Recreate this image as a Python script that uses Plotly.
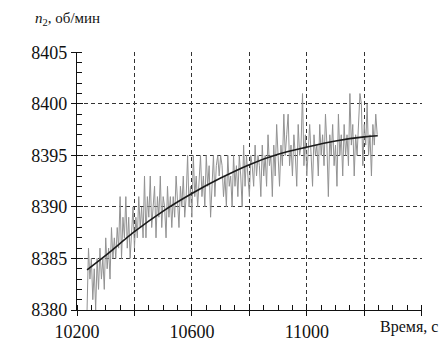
import plotly.graph_objects as go

# ---- data ----
t_start = 10235
t_step = 5
rpm_measured = [
    8380, 8386, 8383, 8385, 8381, 8384, 8380, 8385, 8382, 8386, 8383, 8385, 8382, 8387, 8384, 8386, 8383, 8388, 8385, 8387,
    8385, 8388, 8386, 8391, 8385, 8389, 8387, 8391, 8386, 8389, 8385, 8388, 8390, 8386, 8389, 8387, 8391, 8388, 8390, 8387,
    8393, 8387, 8391, 8389, 8393, 8388, 8390, 8392, 8387, 8391, 8389, 8393, 8388, 8391, 8390, 8387, 8392, 8389, 8391, 8388,
    8391, 8389, 8393, 8390, 8388, 8392, 8390, 8393, 8389, 8391, 8395, 8390, 8392, 8389, 8395, 8391, 8393, 8390, 8392, 8395,
    8391, 8393, 8390, 8395, 8392, 8394, 8389, 8393, 8395, 8391, 8394, 8395, 8393, 8395, 8394, 8391, 8393, 8390, 8395, 8392,
    8393, 8390, 8395, 8392, 8394, 8391, 8395, 8393, 8390, 8396, 8392, 8395, 8393, 8391, 8395, 8394, 8392, 8396, 8393, 8395,
    8394, 8391, 8396, 8393, 8395, 8392, 8397, 8394, 8395, 8391, 8396, 8393, 8398, 8395, 8392, 8396, 8394, 8399, 8395, 8397,
    8399, 8394, 8396, 8393, 8397, 8395, 8392, 8398, 8395, 8396, 8401, 8394, 8397, 8393, 8396, 8398, 8395, 8392, 8397, 8395,
    8396, 8393, 8398, 8395, 8397, 8394, 8399, 8396, 8391, 8397, 8395, 8398, 8394, 8396, 8392, 8399, 8395, 8397, 8393, 8398,
    8395, 8397, 8394, 8401, 8396, 8398, 8393, 8397, 8395, 8399, 8401, 8400, 8394, 8398, 8396, 8400, 8395, 8397, 8393, 8398,
    8396, 8399, 8397,
]
time_measured = [t_start + t_step * i for i in range(len(rpm_measured))]

time_fit = [10235, 10300, 10400, 10500, 10600, 10700, 10800, 10900, 11000, 11100, 11200, 11247]
rpm_fit = [8383.9, 8385.3, 8387.6, 8389.6, 8391.3, 8392.8, 8394.1, 8395.1, 8395.8, 8396.4, 8396.8, 8396.9]

x_ticks = [10200, 10400, 10600, 10800, 11000, 11200, 11400]
x_tick_text = ["10200", "", "10600", "", "11000", "", ""]
y_ticks = [8380, 8385, 8390, 8395, 8400, 8405]

x_range = [10200, 11401]
y_range = [8380, 8405.03]

FONT = "Liberation Serif"
INK = "#111111"

fig = go.Figure()
fig.add_trace(go.Scatter(
    x=time_measured, y=rpm_measured, mode="lines",
    line=dict(color="#929292", width=1), xaxis="x", yaxis="y",
    showlegend=False, hoverinfo="skip",
))
fig.add_trace(go.Scatter(
    x=time_fit, y=rpm_fit, mode="lines",
    line=dict(color="#1a1a1a", width=1.6, shape="spline"), xaxis="x2", yaxis="y2",
    showlegend=False, hoverinfo="skip",
))

grid = dict(showgrid=True, gridcolor="#333333", gridwidth=1, griddash="4px,3px")

fig.update_layout(
    width=448, height=354,
    margin=dict(l=77, r=26, t=52, b=32),
    paper_bgcolor="white", plot_bgcolor="white",
    font=dict(family=FONT, size=18, color=INK),
    xaxis=dict(
        range=x_range, tickvals=x_ticks, ticktext=x_tick_text,
        ticks="outside", ticklen=5, tickwidth=1, tickcolor=INK,
        showline=True, linecolor=INK, linewidth=1.2,
        zeroline=False, tickfont=dict(family=FONT, size=18, color=INK),
        minor=dict(dtick=50, tick0=10200, ticks="inside", ticklen=5, tickcolor=INK, showgrid=False),
        **grid,
    ),
    yaxis=dict(
        range=y_range, tickvals=y_ticks,
        ticks="outside", ticklen=5, tickwidth=1, tickcolor=INK,
        showline=True, linecolor=INK, linewidth=1.2,
        zeroline=False, tickfont=dict(family=FONT, size=18, color=INK),
        minor=dict(dtick=1, tick0=8380, ticks="inside", ticklen=5, tickcolor=INK, showgrid=False),
        **grid,
    ),
    xaxis2=dict(
        range=x_range, overlaying="x", anchor="y2", tickvals=x_ticks,
        ticks="inside", ticklen=6, tickcolor=INK, showticklabels=False,
        showgrid=False, zeroline=False, showline=False,
    ),
    yaxis2=dict(
        range=y_range, overlaying="y", anchor="x2", tickvals=y_ticks,
        ticks="inside", ticklen=6, tickcolor=INK, showticklabels=False,
        showgrid=False, zeroline=False, showline=False,
    ),
    annotations=[
        dict(text="<i>n</i><sub>2</sub>, об/мин", xref="paper", yref="paper",
             x=-0.128, y=1.126, xanchor="left", yanchor="middle", showarrow=False,
             font=dict(family=FONT, size=15, color=INK)),
        dict(text="Время, с", xref="paper", yref="paper",
             x=0.872, y=-0.067, xanchor="left", yanchor="middle", showarrow=False,
             font=dict(family=FONT, size=16, color=INK)),
    ],
)

fig.write_html("out.html")
